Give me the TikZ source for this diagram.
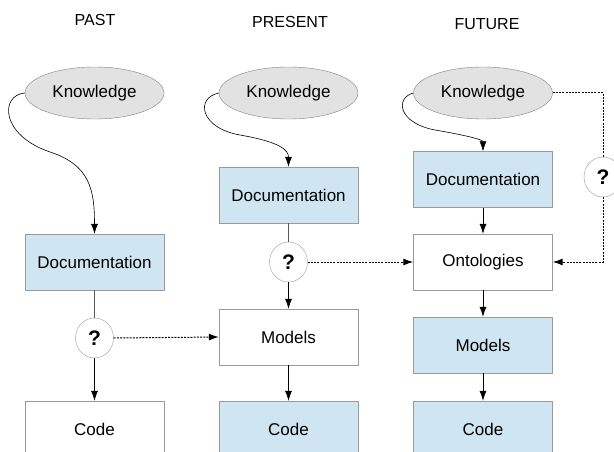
\documentclass[tikz,border=0pt]{standalone}
\usepackage{fontspec}
\setmainfont{Liberation Sans}
\usetikzlibrary{shapes.geometric, arrows.meta, calc}

\definecolor{boxblue}{HTML}{CFE5F2}
\definecolor{knowgray}{HTML}{E2E2E2}
\definecolor{edgegray}{HTML}{9A9A9A}

\tikzset{
  era/.style={font=\fontsize{16}{18}\selectfont},
  knowbox/.style={ellipse, draw=gray, fill=knowgray, minimum width=139pt,
    minimum height=52pt, inner sep=0pt, font=\fontsize{17}{20}\selectfont},
  plainbox/.style={rectangle, draw=edgegray, fill=white, minimum width=139pt,
    minimum height=56pt, inner sep=0pt, font=\fontsize{17}{20}\selectfont},
  bluebox/.style={plainbox, fill=boxblue},
  askme/.style={ellipse, draw=edgegray, fill=white, minimum width=38pt,
    minimum height=40pt, inner sep=0pt, font=\fontsize{21}{24}\selectfont\bfseries},
  arr/.style={-{Latex[length=10pt,width=7pt]}, line width=0.6pt},
  link/.style={line width=0.6pt, draw=gray!70!black},
  maybe/.style={dash pattern=on 2pt off 1.2pt, line width=1pt,
    -{Latex[length=10pt,width=7pt]}}
}

\begin{document}
\begin{tikzpicture}[x=1pt,y=-1pt]
      \clip (0,0) rectangle (614,452);

      \node[era] (tpast) at (95,20) {PAST};
      \node[era] (tpres) at (290,22) {PRESENT};
      \node[era] (tfut) at (487,24) {FUTURE};

      % past
      \node[knowbox] (kpast) at (94.5,93) {Knowledge};
      \node[bluebox] (dpast) at (94.5,262) {Documentation};
      \node[askme] (qpast) at (94.5,338) {?};
      \node[plainbox] (cpast) at (94.5,429) {Code};

      % present
      \node[knowbox] (kpres) at (288.5,93) {Knowledge};
      \node[bluebox] (dpres) at (288.5,195) {Documentation};
      \node[askme] (qpres) at (288.5,262) {?};
      \node[plainbox] (mpres) at (288.5,337) {Models};
      \node[bluebox] (cpres) at (288.5,429) {Code};

      % future
      \node[knowbox] (kfut) at (483,93) {Knowledge};
      \node[bluebox] (dfut) at (483,179.5) {Documentation};
      \node[plainbox] (ofut) at (483,262) {Ontologies};
      \node[bluebox] (mfut) at (483,345) {Models};
      \node[bluebox] (cfut) at (483,429) {Code};
      \node[askme] (qfut) at (603,177) {?};

      \draw[arr] (kpast.west) .. controls (0,95) and (0,135) .. (50,152)
        .. controls (90,165) and (94.5,190) .. (dpast.north);
      \draw[arr] (kpres.west) .. controls (195,98) and (200,128) .. (240,135)
        .. controls (280,142) and (288.5,150) .. (dpres.north);
      \draw[arr] (kfut.west) .. controls (395,98) and (398,123) .. (435,130)
        .. controls (470,136) and (483,140) .. (dfut.north);

      \draw[link] (dpast.south) -- (qpast.north);
      \draw[arr] (qpast.south) -- (cpast.north);
      \draw[link] (dpres.south) -- (qpres.north);
      \draw[arr] (qpres.south) -- (mpres.north);
      \draw[arr] (mpres.south) -- (cpres.north);
      \draw[arr] (dfut.south) -- (ofut.north);
      \draw[arr] (ofut.south) -- (mfut.north);
      \draw[arr] (mfut.south) -- (cfut.north);

      \draw[maybe] (qpast.east) -- (mpres.west);
      \draw[maybe] (qpres.east) -- (ofut.west);
      \draw[dash pattern=on 2pt off 1.2pt, line width=1pt] (kfut.east) -| (qfut.north);
      \draw[maybe] (qfut.south) |- (ofut.east);
    \end{tikzpicture}
\end{document}
